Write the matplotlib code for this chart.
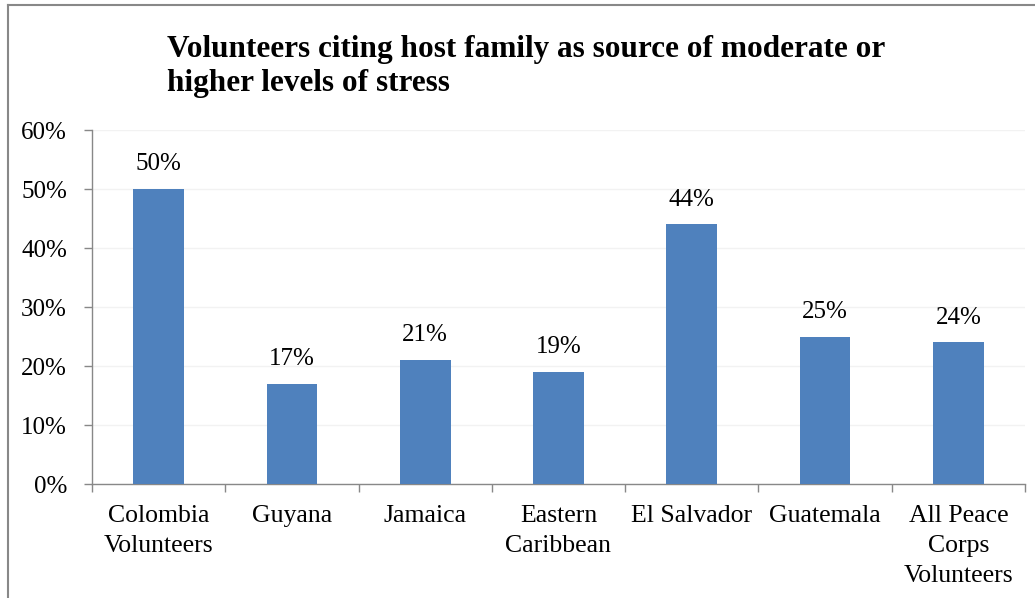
import matplotlib
matplotlib.use("Agg")

import matplotlib.pyplot as plt
from matplotlib.lines import Line2D
import numpy as np


# Data
categories = [
    "Colombia\nVolunteers",
    "Guyana",
    "Jamaica",
    "Eastern\nCaribbean",
    "El Salvador",
    "Guatemala",
    "All Peace\nCorps\nVolunteers",
]
values = [50, 17, 21, 19, 44, 25, 24]
y_ticks = [0, 10, 20, 30, 40, 50, 60]

title = "Volunteers citing host family as source of moderate or\nhigher levels of stress"


plt.rcParams["font.family"] = ["Liberation Serif", "DejaVu Serif"]

fig = plt.figure(figsize=(10.35, 5.98), dpi=100)
ax = fig.add_axes([0.0889, 0.1906, 0.9014, 0.592])

x = np.arange(len(categories))

ax.bar(x, values, width=0.38, color="#4F81BD", zorder=3)

for xi, v in zip(x, values):
    ax.annotate(
        f"{v}%",
        (xi, v),
        xytext=(0, 10),
        textcoords="offset points",
        ha="center",
        va="bottom",
        fontsize=18,
    )

ax.set_xlim(-0.5, len(categories) - 0.5)
ax.set_ylim(0, 60)

ax.set_yticks(y_ticks)
ax.set_yticklabels([f"{t}%" for t in y_ticks], fontsize=18)
ax.yaxis.grid(True, color="#f2f2f2", linewidth=1, zorder=0)

ax.set_xticks(x)
ax.set_xticklabels(categories, fontsize=18.5, linespacing=1.48, va="top")
ax.set_xticks(np.arange(len(categories) + 1) - 0.5, minor=True)
ax.tick_params(axis="x", which="major", length=0, pad=15)
ax.tick_params(axis="x", which="minor", length=6, color="#888888", width=1)
ax.tick_params(axis="y", length=6, color="#888888", width=1, pad=12)

for side in ["top", "right"]:
    ax.spines[side].set_visible(False)
for side in ["left", "bottom"]:
    ax.spines[side].set_color("#888888")
    ax.spines[side].set_linewidth(1)

fig.text(
    0.161, 0.941, title,
    ha="left", va="top",
    fontsize=22.5, fontweight="bold",
    linespacing=1.23,
)

# Outer chart border (cropped screenshot)
fig.add_artist(Line2D([8 / 1035, 8 / 1035], [0, 1 - 5 / 598],
                      transform=fig.transFigure, color="#888888", linewidth=1.5))
fig.add_artist(Line2D([8 / 1035, 1], [1 - 5 / 598, 1 - 5 / 598],
                      transform=fig.transFigure, color="#888888", linewidth=1.5))

fig.savefig("out.png", dpi=100)
